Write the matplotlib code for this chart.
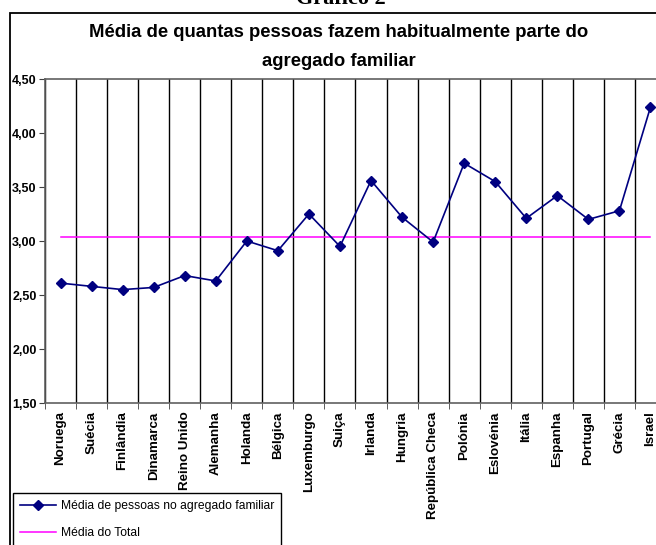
import matplotlib
matplotlib.use("Agg")
import matplotlib.pyplot as plt
from matplotlib.patches import Rectangle
from matplotlib.ticker import FixedLocator, FuncFormatter

plt.rcParams['font.family'] = ['Liberation Sans', 'DejaVu Sans']

# dados
paises = ["Noruega", "Suécia", "Finlândia", "Dinamarca", "Reino Unido", "Alemanha",
          "Holanda", "Bélgica", "Luxemburgo", "Suiça", "Irlanda", "Hungria",
          "República Checa", "Polónia", "Eslovénia", "Itália", "Espanha",
          "Portugal", "Grécia", "Israel"]
media_pessoas = [2.61, 2.58, 2.55, 2.57, 2.68, 2.63, 3.00, 2.91, 3.25, 2.95,
                 3.56, 3.22, 2.99, 3.72, 3.55, 3.21, 3.42, 3.20, 3.28, 4.24]
media_total = 3.04
y_ticks = [1.5, 2.0, 2.5, 3.0, 3.5, 4.0, 4.5]

W, H = 656, 545
fig = plt.figure(figsize=(W / 100, H / 100), dpi=100)

# moldura do gráfico (sai para fora da imagem à direita e em baixo)
fig.patches.append(Rectangle((10 / W, -0.1), 1.2, 1 - 13 / H + 0.1,
                             transform=fig.transFigure, fill=False,
                             edgecolor='black', linewidth=1.3))

# título do documento, cortado no topo como no original
fig.text(341 / W, 1 - 3.5 / H, "Gráfico 2", family='Liberation Serif',
         fontweight='bold', fontsize=16, ha='center', va='baseline')
fig.text(339 / W, 1 - 47 / H,
         "Média de quantas pessoas fazem habitualmente parte do\nagregado familiar",
         fontweight='bold', fontsize=13.3, ha='center', va='center', linespacing=1.85)

ax = fig.add_axes([45 / W, 1 - 403 / H, 621 / W, 324 / H])

x = list(range(len(paises)))
ax.plot(x, media_pessoas, color='#000080', marker='D', markersize=5.5,
        linewidth=1.2, label="Média de pessoas no agregado familiar", zorder=3)
ax.plot([x[0], x[-1]], [media_total, media_total], color='#FF00FF',
        linewidth=1.1, label="Média do Total", zorder=2)

ax.set_xlim(-0.5, len(paises) - 0.5)
ax.set_ylim(1.5, 4.5)
ax.yaxis.set_major_locator(FixedLocator(y_ticks))
ax.yaxis.set_major_formatter(FuncFormatter(lambda v, p: f"{v:.2f}".replace('.', ',')))
ax.set_xticks(x)
ax.set_xticklabels(paises, rotation=90, fontweight='bold', fontsize=9.6)
ax.set_xticks([i - 0.5 for i in range(len(paises) + 1)], minor=True)
ax.tick_params(axis='x', which='major', length=0, pad=6)
ax.tick_params(axis='x', which='minor', length=4, color='#404040')
ax.tick_params(axis='y', length=4, color='#404040', labelsize=9, pad=2)
for lab in ax.get_yticklabels():
    lab.set_fontweight('bold')
ax.grid(True, which='minor', axis='x', color='black', linewidth=1.0)
for s in ax.spines.values():
    s.set_color('#606060')
    s.set_linewidth(1.2)

fig.legend(loc='upper left', bbox_to_anchor=(13 / W, 1 - 493 / H),
           fontsize=8.7, frameon=True, fancybox=False, edgecolor='black',
           borderaxespad=0, handlelength=3.0, labelspacing=1.25,
           borderpad=0.6, handletextpad=0.35, framealpha=1)

plt.savefig("out.png", dpi=100)
